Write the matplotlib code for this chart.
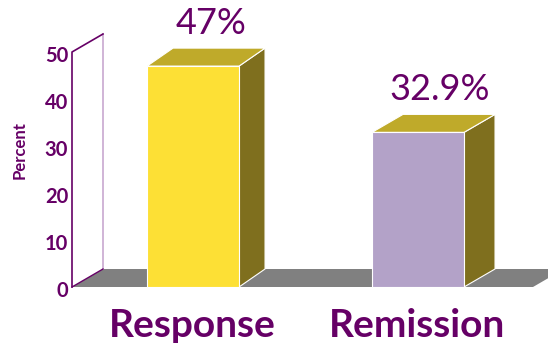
import numpy as np
import matplotlib.pyplot as plt
from matplotlib.patches import Polygon
from matplotlib.transforms import offset_copy

categories = ['Response', 'Remission']
values = [47, 32.9]
value_labels = ['47%', '32.9%']
yticks = [0, 10, 20, 30, 40, 50]

purple = '#660066'
front_colors = ['#FDE035', '#B3A2C8']
top_color = '#BFAA2A'
side_color = '#7F6F1E'
floor_color = '#808080'

plt.rcParams['font.family'] = ['Lato', 'DejaVu Sans']

fig = plt.figure(figsize=(5.48, 3.45), dpi=100)
ax = fig.add_axes([72 / 548, 58 / 345, 461 / 548, 235 / 345])
xmin, xmax = -0.538, 1.511
ymin, ymax = 0, 50
ax.set_xlim(xmin, xmax)
ax.set_ylim(ymin, ymax)
ax.axis('off')

# pixel -> data conversion for the oblique depth
px_x = (xmax - xmin) / 461.0
px_y = (ymax - ymin) / 235.0


def depth(dx, dy):
    return dx * px_x, dy * px_y


# floor and back wall
wdx, wdy = depth(31, 18)
floor = Polygon([(xmin, 0), (xmax, 0), (xmax + wdx, wdy), (xmin + wdx, wdy)],
                closed=True, facecolor=floor_color, edgecolor='none', clip_on=False, zorder=1)
ax.add_patch(floor)
wall = Polygon([(xmin, 0), (xmin + wdx, wdy), (xmin + wdx, ymax + wdy), (xmin, ymax)],
               closed=True, facecolor='white', edgecolor='none', clip_on=False, zorder=2)
ax.add_patch(wall)
ax.plot([xmin + wdx, xmin + wdx], [wdy, ymax + wdy], color='#C8A8D0', lw=1.2, clip_on=False, zorder=3)
ax.plot([xmin, xmin, xmin + wdx], [0, ymax, ymax + wdy], color=purple, lw=1.2, clip_on=False, zorder=3)
ax.plot([xmin, xmin + wdx], [0, wdy], color=purple, lw=1.0, clip_on=False, zorder=3)

# 3d bars (the right one recedes a little further)
width = 92 * px_x
bar_depths = [(26, 18), (31, 18)]
for i, (v, c) in enumerate(zip(values, front_colors)):
    bdx, bdy = depth(*bar_depths[i])
    x0 = i - width / 2
    x1 = i + width / 2
    side = Polygon([(x1, 0), (x1 + bdx, bdy), (x1 + bdx, v + bdy), (x1, v)],
                   closed=True, facecolor=side_color, edgecolor='white', lw=0.8, clip_on=False, zorder=4)
    top = Polygon([(x0, v), (x1, v), (x1 + bdx, v + bdy), (x0 + bdx, v + bdy)],
                  closed=True, facecolor=top_color, edgecolor='white', lw=0.8, clip_on=False, zorder=4)
    front = Polygon([(x0, 0), (x1, 0), (x1, v), (x0, v)],
                    closed=True, facecolor=c, edgecolor='white', lw=0.8, clip_on=False, zorder=5)
    for p in (side, top, front):
        ax.add_patch(p)
    ax.text(i + bdx * 0.7, v + bdy + 1.8, value_labels[i], ha='center', va='bottom',
            fontsize=26, color=purple, clip_on=False)
    ax.text(i - 0.005, -4.4, categories[i], ha='center', va='top', fontsize=28,
            fontweight='bold', color=purple, clip_on=False)

# y tick labels
lab_tr = offset_copy(ax.transData, fig=fig, x=-4, y=-4, units='dots')
for t in yticks:
    ax.text(xmin, t, str(t), transform=lab_tr, ha='right', va='center',
            fontsize=14.5, fontweight='bold', color=purple)

fig.text(20 / 548, 1 - 150 / 345, 'Percent', rotation=90, ha='center', va='center',
         fontsize=12, fontweight='bold', color=purple)

fig.savefig('out.png', dpi=100)
